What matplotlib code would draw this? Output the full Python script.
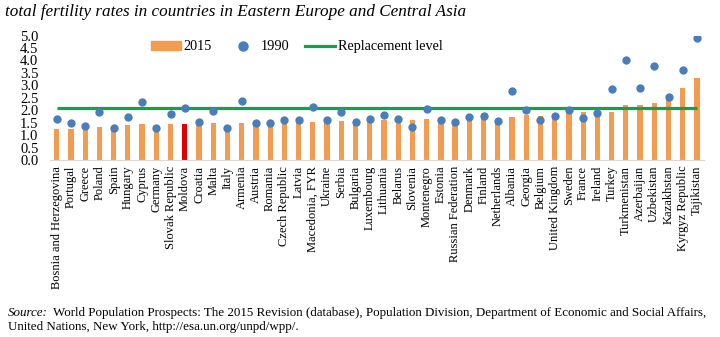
import matplotlib
matplotlib.use("Agg")
import matplotlib.pyplot as plt
from matplotlib.patches import Patch
from matplotlib.lines import Line2D

# data
countries = ["Bosnia and Herzegovina", "Portugal", "Greece", "Poland", "Spain",
             "Hungary", "Cyprus", "Germany", "Slovak Republic", "Moldova",
             "Croatia", "Malta", "Italy", "Armenia", "Austria", "Romania",
             "Czech Republic", "Latvia", "Macedonia, FYR", "Ukraine", "Serbia",
             "Bulgaria", "Luxembourg", "Lithuania", "Belarus", "Slovenia",
             "Montenegro", "Estonia", "Russian Federation", "Denmark", "Finland",
             "Netherlands", "Albania", "Georgia", "Belgium", "United Kingdom",
             "Sweden", "France", "Ireland", "Turkey", "Turkmenistan",
             "Azerbaijan", "Uzbekistan", "Kazakhstan", "Kyrgyz Republic",
             "Tajikistan"]
tfr_2015 = [1.25, 1.23, 1.30, 1.32, 1.32, 1.41, 1.44, 1.39, 1.44, 1.46,
            1.46, 1.47, 1.37, 1.50, 1.47, 1.48, 1.50, 1.50, 1.51, 1.50,
            1.57, 1.50, 1.55, 1.60, 1.60, 1.60, 1.63, 1.60, 1.62, 1.70,
            1.75, 1.60, 1.74, 1.80, 1.77, 1.85, 1.90, 1.92, 1.95, 1.94,
            2.20, 2.20, 2.30, 2.40, 2.90, 3.30]
tfr_1990 = [1.64, 1.48, 1.37, 1.92, 1.27, 1.74, 2.33, 1.30, 1.86, 2.11,
            1.52, 1.98, 1.27, 2.37, 1.48, 1.49, 1.61, 1.62, 2.12, 1.60,
            1.95, 1.53, 1.63, 1.80, 1.66, 1.31, 2.04, 1.60, 1.54, 1.74,
            1.79, 1.57, 2.77, 2.03, 1.59, 1.77, 2.00, 1.70, 1.90, 2.87,
            4.03, 2.90, 3.76, 2.54, 3.60, 4.89]
replacement_level = 2.1
highlight = "Moldova"

orange = "#F39B50"
blue = "#4A7EBB"
green = "#17A04A"
red = "#E00000"
serif = "Liberation Serif"

fig = plt.figure(figsize=(7.2, 3.37), dpi=100)
ax = fig.add_axes([0.0689, 0.525, 0.909, 0.3694])

x = list(range(len(countries)))
bar_colors = [red if c == highlight else orange for c in countries]
ax.bar(x, tfr_2015, width=0.37, color=bar_colors, zorder=2)
ax.hlines(replacement_level, x[0], x[-1], color=green, linewidth=2.3, zorder=3)
ax.scatter(x, tfr_1990, s=36, color=blue, zorder=4, linewidths=0)

ax.set_xlim(-0.5, len(countries) - 0.5)
ax.set_ylim(0, 5.0)
ax.set_yticks([i * 0.5 for i in range(11)])
ax.set_yticklabels(["%.1f" % (i * 0.5) for i in range(11)],
                   fontfamily=serif, fontsize=10.5)
ax.set_xticks(x)
ax.set_xticklabels(countries, rotation=90, fontfamily=serif, fontsize=9)
ax.tick_params(length=0, pad=4)
ax.tick_params(axis="y", pad=8)
for s in ["top", "right", "left"]:
    ax.spines[s].set_visible(False)
ax.spines["bottom"].set_color("#d9d9d9")
ax.spines["bottom"].set_linewidth(0.8)

handles = [Patch(color=orange),
           Line2D([], [], marker="o", linestyle="none", color=blue, markersize=6.5),
           Line2D([], [], color=green, linewidth=2.3)]
fig.legend(handles, ["2015", "1990", "Replacement level"], loc="center",
           bbox_to_anchor=(0.412, 0.861), ncol=3, frameon=False,
           prop={"family": serif, "size": 10.3}, handlelength=2.1,
           handleheight=0.6, columnspacing=1.1, handletextpad=0.2)

fig.text(0.007, 0.963, "total fertility rates in countries in Eastern Europe and Central Asia",
         fontfamily=serif, fontstyle="italic", fontsize=12.3, va="center")

src = fig.text(0.011, 0.072, "Source:", fontfamily=serif, fontstyle="italic",
               fontsize=9.4, va="center")
fig.text(0.011, 0.030, "United Nations, New York, http://esa.un.org/unpd/wpp/.",
         fontfamily=serif, fontsize=9.4, va="center")
ax.annotate("World Population Prospects: The 2015 Revision (database), "
            "Population Division, Department of Economic and Social Affairs,",
            xy=(1, 0.5), xycoords=src, xytext=(4, 0), textcoords="offset points",
            fontfamily=serif, fontsize=9.4, va="center", annotation_clip=False)

fig.savefig("out.png", dpi=100)
